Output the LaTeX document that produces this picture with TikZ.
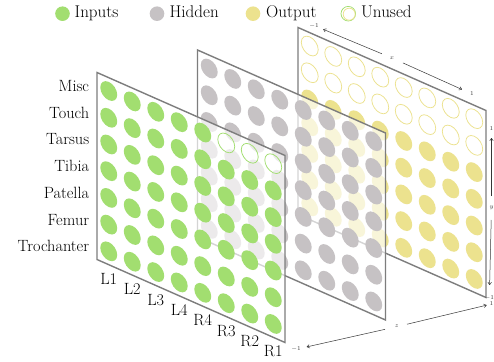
\documentclass[tikz,border=0pt]{standalone}
\usepackage{fontspec}
\usetikzlibrary{arrows.meta}

\definecolor{inputgreen}{RGB}{162,222,112}
\definecolor{hiddengray}{RGB}{198,194,196}
\definecolor{outputyellow}{RGB}{236,226,142}
\definecolor{framegray}{RGB}{125,125,125}
\definecolor{axisgray}{RGB}{55,55,55}

\tikzset{
  sheet/.style={fill=white, fill opacity=0.67},
  frame/.style={draw=framegray, line width=1.4pt, line join=miter},
  cell/.style={fill=#1},
  spare/.style={draw=#1, line width=0.75pt},
  rowlabel/.style={anchor=base east, inner sep=0pt, xshift=-7.7pt, yshift=-5.6pt,
    font=\fontsize{16.3}{19}\selectfont},
  collabel/.style={anchor=base, inner sep=0pt, yshift=-19.6pt,
    font=\fontsize{16.3}{19}\selectfont},
  keytext/.style={anchor=base west, inner sep=0pt, font=\fontsize{17}{20}\selectfont},
  tick/.style={inner sep=0pt, text=axisgray, font=\fontsize{6}{7}\selectfont},
  axisline/.style={draw=axisgray, line width=0.5pt, -{To[length=3pt,width=4pt]}},
}

\begin{document}
\begin{tikzpicture}[x=1pt, y=-1pt]
\useasboundingbox (0,0) rectangle (494,361);
\fill[white] (0,0) rectangle (494,361);

% legend
\fill[inputgreen] (62.5,13.7) circle[radius=7.3pt];
\node[keytext] (keyin) at (74.5,17.8) {Inputs};
\fill[hiddengray] (157,13.7) circle[radius=7.3pt];
\node[keytext] (keyhid) at (169.5,17.8) {Hidden};
\fill[outputyellow] (253,13.7) circle[radius=7.3pt];
\node[keytext] (keyout) at (266,17.8) {Output};
\draw[spare=inputgreen] (348.3,13.7) circle[radius=7.3pt];
\draw[spare=outputyellow] (349.2,14.2) circle[radius=6pt];
\node[keytext] (keyun) at (361,17.8) {Unused};

% the three layers, as planes z = -1, 0, 1 of an oblique projection
\begin{scope}[shift={(291.5,185)}, x={(94pt,-41.5pt)}, y={(0pt,93.5pt)}, z={(100.5pt,22.5pt)}]

  % output layer
  \fill[sheet] (-1,1,1) -- (1,1,1) -- (1,-1,1) -- (-1,-1,1) -- cycle;
  \foreach \i in {0,...,7}{
    \foreach \j in {2,...,6}
      \fill[cell=outputyellow] ({-0.875+0.25*\i},{1-(2*\j+1)/7},1) ellipse [x radius=0.09, y radius=0.098];
    \foreach \j in {0,1}
      \draw[spare=outputyellow] ({-0.875+0.25*\i},{1-(2*\j+1)/7},1) ellipse [x radius=0.09, y radius=0.098];
  }
  \draw[frame] (-1,1,1) -- (1,1,1) -- (1,-1,1) -- (-1,-1,1) -- cycle;

  % hidden layer
  \fill[sheet] (-1,1,0) -- (1,1,0) -- (1,-1,0) -- (-1,-1,0) -- cycle;
  \foreach \i in {0,...,7}{
    \foreach \j in {0,...,6}
      \fill[cell=hiddengray] ({-0.875+0.25*\i},{1-(2*\j+1)/7},0) ellipse [x radius=0.09, y radius=0.098];
  }
  \draw[frame] (-1,1,0) -- (1,1,0) -- (1,-1,0) -- (-1,-1,0) -- cycle;

  % input layer
  \fill[sheet] (-1,1,-1) -- (1,1,-1) -- (1,-1,-1) -- (-1,-1,-1) -- cycle;
  \foreach \i in {0,...,7}{
    \foreach \j in {1,...,6}
      \fill[cell=inputgreen] ({-0.875+0.25*\i},{1-(2*\j+1)/7},-1) ellipse [x radius=0.09, y radius=0.098];
  }
  \foreach \i in {0,...,4}
    \fill[cell=inputgreen] ({-0.875+0.25*\i},{6/7},-1) ellipse [x radius=0.09, y radius=0.098];
  \foreach \i in {5,6,7}
    \draw[spare=inputgreen] ({-0.875+0.25*\i},{6/7},-1) ellipse [x radius=0.09, y radius=0.098];
  \draw[frame] (-1,1,-1) -- (1,1,-1) -- (1,-1,-1) -- (-1,-1,-1) -- cycle;

  % row and column names of the input layer
  \foreach \lab [count=\j from 0] in {Misc,Touch,Tarsus,Tibia,Patella,Femur,Trochanter}
    \node[rowlabel] (row\j) at (-1,{1-(2*\j+1)/7},-1) {\lab};
  \foreach \lab [count=\i from 0] in {L1,L2,L3,L4,R4,R3,R2,R1}
    \node[collabel] (col\i) at ({-0.875+0.25*\i},-1,-1) {\lab};
\end{scope}

% axis annotations
\node[tick] (xlo) at (314,25.5) {$-1$};
\node[tick] (xmid) at (392,58) {$x$};
\node[tick] (xhi) at (472,94) {$1$};
\draw[axisline, shorten <=11pt, shorten >=10pt] (xmid.center) -- (xlo.center);
\draw[axisline, shorten <=12pt, shorten >=11pt] (xmid.center) -- (xhi.center);

\node[tick] (yhi) at (491.5,129) {$1$};
\node[tick] (ymid) at (491.5,208) {$y$};
\node[tick] (ylo) at (489.3,298) {$-1$};
\draw[axisline, shorten <=12pt, shorten >=9pt] (ymid.center) -- (yhi.center);
\draw[axisline, shorten <=12pt, shorten >=13pt] (ymid.center) -- (ylo.center);

\node[tick] (zlo) at (296,349.3) {$-1$};
\node[tick] (zmid) at (396.7,326.7) {$z$};
\node[tick] (zhi) at (491.5,304) {$1$};
\draw[axisline, shorten <=12pt, shorten >=11pt] (zmid.center) -- (zlo.center);
\draw[axisline, shorten <=10.6pt, shorten >=5pt] (zmid.center) -- (zhi.center);
\end{tikzpicture}
\end{document}
